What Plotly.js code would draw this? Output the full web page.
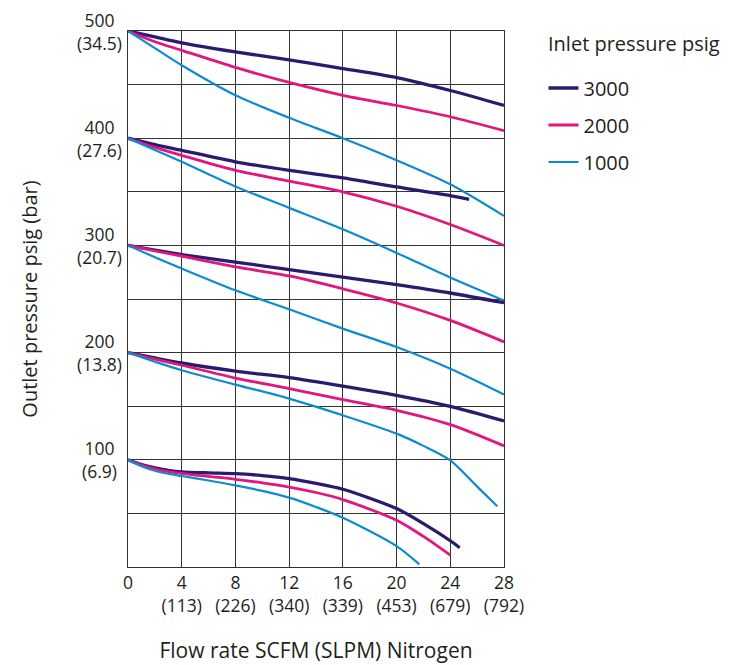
<!DOCTYPE html>
<html>
<head>
<meta charset="utf-8">
<script src="https://cdn.plot.ly/plotly-3.0.1.min.js"></script>
<style>html,body{margin:0;padding:0;background:#fff;}#chart{width:732px;height:665px;}</style>
</head>
<body>
<div id="chart"></div>
<script>
// ---- Data ----
// Flow rate SCFM (x) and outlet pressure psig (y), per starting outlet pressure and inlet pressure
const flow_500_3000 = [0, 2, 4, 8, 12, 16, 20, 24, 28];
const outlet_500_3000 = [500, 494.5, 489, 480.5, 473, 465, 456.5, 444.5, 430.5];
const flow_500_2000 = [0, 2, 4, 8, 12, 16, 20, 24, 28];
const outlet_500_2000 = [500, 490, 482, 466, 452, 440, 430.5, 420, 407];
const flow_500_1000 = [0, 2, 4, 8, 12, 16, 20, 24, 28];
const outlet_500_1000 = [500, 484, 468, 440, 419, 400, 379.5, 357, 327.5];

const flow_400_3000 = [0, 2, 4, 8, 12, 16, 20, 24, 25.4];
const outlet_400_3000 = [400, 394, 388.7, 378, 370, 363, 354.5, 346.5, 343];
const flow_400_2000 = [0, 2, 4, 8, 12, 16, 20, 24, 28];
const outlet_400_2000 = [400, 391.5, 384, 370, 360, 350, 336.5, 319.5, 300];
const flow_400_1000 = [0, 2, 4, 8, 12, 16, 20, 24, 28];
const outlet_400_1000 = [400, 389, 378, 355, 335, 315, 293, 270, 248.5];

const flow_300_3000 = [0, 2, 4, 8, 12, 16, 20, 24, 28];
const outlet_300_3000 = [300, 295.5, 291.4, 284.5, 277.4, 270.5, 263.4, 255.6, 246.5];
const flow_300_2000 = [0, 2, 4, 8, 12, 16, 20, 24, 28];
const outlet_300_2000 = [300, 295, 290, 280, 271.5, 259.5, 246.3, 230, 210];
const flow_300_1000 = [0, 2, 4, 8, 12, 16, 20, 24, 28];
const outlet_300_1000 = [300, 289, 278.4, 258.1, 240.4, 222.4, 205.2, 185, 161];

const flow_200_3000 = [0, 2, 4, 8, 12, 16, 20, 24, 28];
const outlet_200_3000 = [200, 195, 190.3, 182.8, 176.7, 168.8, 160.2, 149.9, 136.2];
const flow_200_2000 = [0, 2, 4, 8, 12, 16, 20, 24, 28];
const outlet_200_2000 = [200, 194, 188.2, 176.3, 166.4, 156.2, 146.2, 132.8, 113];
const flow_200_1000 = [0, 2, 4, 8, 12, 16, 20, 22, 24, 26, 27.5];
const outlet_200_1000 = [200, 191.5, 183.5, 170.1, 157.1, 141.5, 124.4, 113, 99.5, 75, 56.6];

const flow_100_3000 = [0, 1, 2, 3, 4, 6, 8, 10, 12, 14, 16, 20, 22, 24, 24.7];
const outlet_100_3000 = [100, 95.5, 92.4, 90.2, 88.8, 87.8, 87.1, 85.3, 82.5, 78, 72.5, 54.5, 40.5, 24.5, 18];
const flow_100_2000 = [0, 1, 2, 3, 4, 6, 8, 10, 12, 14, 16, 20, 22, 24];
const outlet_100_2000 = [100, 95, 91.5, 89, 87.3, 84.5, 81.8, 78.5, 74.6, 69.5, 62.9, 43.6, 28.5, 11];
const flow_100_1000 = [0, 1, 2, 3, 4, 6, 8, 10, 12, 14, 16, 20, 21.7];
const outlet_100_1000 = [100, 94, 89.8, 87, 84.9, 80.7, 76.2, 71, 64.7, 56, 46, 19.5, 2.5];

// Axis ticks
const yTickVals = [100, 200, 300, 400, 500];
const yTickBar = ['6.9', '13.8', '20.7', '27.6', '34.5'];
const xTickVals = [0, 4, 8, 12, 16, 20, 24, 28];
const xTickSLPM = ['', '113', '226', '340', '339', '453', '679', '792'];

// ---- Styles ----
const FONT = '"Open Sans", "Noto Sans", sans-serif';
const TXT = '#231f20';
const style = {
  '3000': {color: '#2b1b6e', width: 3.3},
  '2000': {color: '#e2167e', width: 2.8},
  '1000': {color: '#0d8bd0', width: 2.2}
};

const series = [
  ['3000', flow_500_3000, outlet_500_3000], ['2000', flow_500_2000, outlet_500_2000], ['1000', flow_500_1000, outlet_500_1000],
  ['3000', flow_400_3000, outlet_400_3000], ['2000', flow_400_2000, outlet_400_2000], ['1000', flow_400_1000, outlet_400_1000],
  ['3000', flow_300_3000, outlet_300_3000], ['2000', flow_300_2000, outlet_300_2000], ['1000', flow_300_1000, outlet_300_1000],
  ['3000', flow_200_3000, outlet_200_3000], ['2000', flow_200_2000, outlet_200_2000], ['1000', flow_200_1000, outlet_200_1000],
  ['3000', flow_100_3000, outlet_100_3000], ['2000', flow_100_2000, outlet_100_2000], ['1000', flow_100_1000, outlet_100_1000]
];

const seen = {};
const traces = series.map(([inlet, xs, ys]) => {
  const show = !seen[inlet];
  seen[inlet] = true;
  return {
    x: xs, y: ys, type: 'scatter', mode: 'lines',
    name: inlet, legendgroup: inlet, showlegend: show,
    line: {color: style[inlet].color, width: style[inlet].width, shape: 'spline', smoothing: 0.8},
    hoverinfo: 'skip'
  };
});

const annotations = yTickVals.map((v, i) => ({
  xref: 'paper', yref: 'y', x: 0, y: v, xshift: -29,
  xanchor: 'center', yanchor: 'middle', align: 'center', showarrow: false,
  text: v + '<br>(' + yTickBar[i] + ')',
  font: {family: FONT, size: 17.5, color: TXT}
}));
annotations.push({
  xref: 'paper', yref: 'paper', x: 1.113, y: 0.976, xanchor: 'left', yanchor: 'middle',
  showarrow: false, text: 'Inlet pressure psig', font: {family: FONT, size: 20, color: TXT}
});

const layout = {
  width: 732, height: 665,
  margin: {l: 128, r: 228, t: 31, b: 98},
  paper_bgcolor: '#fff', plot_bgcolor: '#fff',
  font: {family: FONT, color: TXT},
  showlegend: true,
  legend: {
    x: 1.105, xanchor: 'left', y: 0.93, yanchor: 'top',
    font: {family: FONT, size: 20, color: TXT},
    tracegroupgap: 8, bgcolor: 'rgba(0,0,0,0)'
  },
  xaxis: {
    range: [0, 28], tickvals: xTickVals,
    ticktext: xTickVals.map((v, i) => xTickSLPM[i] ? v + '<br>(' + xTickSLPM[i] + ')' : String(v)),
    tickfont: {family: FONT, size: 17.5, color: TXT},
    showgrid: true, gridcolor: '#333', gridwidth: 1,
    showline: true, linecolor: '#333', linewidth: 1.2, mirror: true,
    zeroline: false, ticks: '', fixedrange: true,
    title: {text: 'Flow rate SCFM (SLPM) Nitrogen', font: {family: FONT, size: 21, color: TXT}, standoff: 27}
  },
  yaxis: {
    range: [0, 500], dtick: 50, showticklabels: false,
    showgrid: true, gridcolor: '#333', gridwidth: 1,
    showline: true, linecolor: '#333', linewidth: 1.2, mirror: true,
    zeroline: false, ticks: '', fixedrange: true,
    title: {text: 'Outlet pressure psig (bar)', font: {family: FONT, size: 20, color: TXT}, standoff: 83}
  },
  annotations: annotations
};

Plotly.newPlot('chart', traces, layout, {displayModeBar: false, staticPlot: true});
</script>
</body>
</html>
